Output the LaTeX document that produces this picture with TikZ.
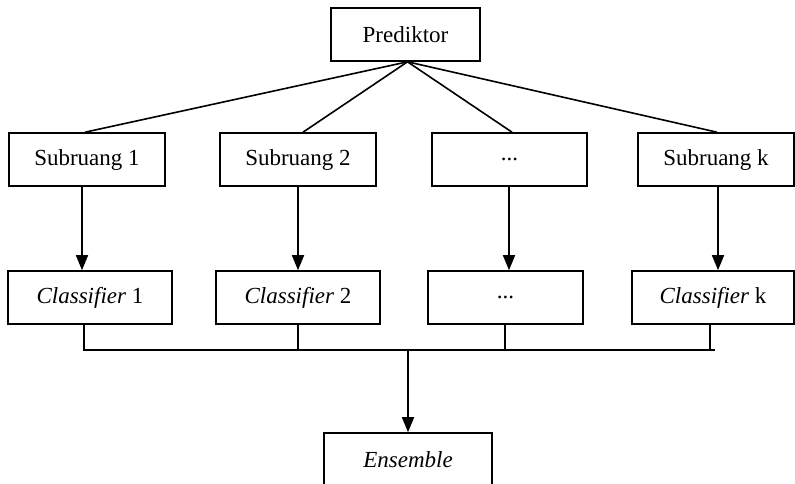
\documentclass[tikz,border=0pt]{standalone}
\usepackage{fontspec}
\setmainfont{Liberation Serif}[ItalicFont={Liberation Serif Italic}]
\usetikzlibrary{arrows.meta,positioning}

\begin{document}
\begin{tikzpicture}[x=0.5pt,y=-0.5pt,
    kotak/.style={draw, line width=0.8pt, minimum height=26.5pt, inner sep=2pt, font=\fontsize{11.5}{13}\selectfont},
    garis/.style={line width=0.8pt},
    panah/.style={line width=0.8pt, -{Triangle[width=6pt,length=7.5pt]}}]

 \useasboundingbox (0,0) rectangle (795,483);

 % prediktor
 \node [kotak, minimum width=74.5pt] (pred) at (405.5, 34.5) {Prediktor};

 % subruang
 \node [kotak, minimum width=78pt] (s1) at (87, 159.5) {Subruang 1};
 \node [kotak, minimum width=78pt] (s2) at (298, 159.5) {Subruang 2};
 \node [kotak, minimum width=77.5pt] (s3) at (509.5, 159.5) {...};
 \node [kotak, minimum width=78pt] (s4) at (716, 159.5) {Subruang k};

 % classifier
 \node [kotak, minimum width=82pt] (c1) at (90, 297.5) {\textit{Classifier} 1};
 \node [kotak, minimum width=82pt] (c2) at (298, 297.5) {\textit{Classifier} 2};
 \node [kotak, minimum width=77.5pt] (c3) at (505.5, 297.5) {...};
 \node [kotak, minimum width=81pt] (c4) at (713, 297.5) {\textit{Classifier} k};

 % ensemble
 \node [kotak, minimum width=84pt] (ens) at (408, 459.5) {\textit{Ensemble}};

 \coordinate (apex) at ([xshift=1pt]pred.south);
 \draw [garis] (apex) -- ([xshift=-1pt]s1.north);
 \draw [garis] (apex) -- ([xshift=2.5pt]s2.north);
 \draw [garis] (apex) -- ([xshift=1.25pt]s3.north);
 \draw [garis] (apex) -- ([xshift=0.5pt]s4.north);

 \draw [panah] ([xshift=-2.5pt]s1.south) -- ([xshift=-2.5pt]s1.south |- c1.north);
 \draw [panah] (s2.south) -- (s2.south |- c2.north);
 \draw [panah] ([xshift=-0.25pt]s3.south) -- ([xshift=-0.25pt]s3.south |- c3.north);
 \draw [panah] ([xshift=1pt]s4.south) -- ([xshift=1pt]s4.south |- c4.north);

 \coordinate (bus) at (408, 350);
 \draw [garis] ([xshift=-3pt]c1.south) -- ([xshift=-3pt]c1.south |- bus) -- ([xshift=1pt]c4.south |- bus);
 \draw [garis] ([xshift=-1.5pt]c4.south) -- ([xshift=-1.5pt]c4.south |- bus);
 \draw [garis] (c2.south) -- (c2.south |- bus);
 \draw [garis] ([xshift=-0.25pt]c3.south) -- ([xshift=-0.25pt]c3.south |- bus);
 \draw [panah] (bus) -- (bus |- ens.north);

\end{tikzpicture}
\end{document}
